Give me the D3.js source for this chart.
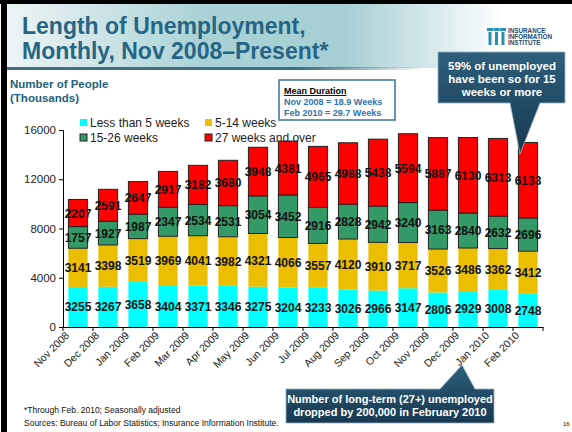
<!DOCTYPE html>
<meta charset="utf-8">
<head>
<style>
  body { margin: 0; background: #fff; }
  svg { display: block; font-family: Arial, "Liberation Sans", sans-serif; }
</style>
</head>
<body>
<svg id="chart" width="572" height="432"></svg>
<script src="https://d3js.org/d3.v7.min.js"></script>
<script>

// months on the x axis
var months = ["Nov 2008", "Dec 2008", "Jan 2009", "Feb 2009", "Mar 2009", "Apr 2009", "May 2009", "Jun 2009",
              "Jul 2009", "Aug 2009", "Sep 2009", "Oct 2009", "Nov 2009", "Dec 2009", "Jan 2010", "Feb 2010"];

// thousands of people, by duration
var lessThan5 = [3255, 3267, 3658, 3404, 3371, 3346, 3275, 3204, 3233, 3026, 2966, 3147, 2806, 2929, 3008, 2748];
var weeks5to14 = [3141, 3398, 3519, 3969, 4041, 3982, 4321, 4066, 3557, 4120, 3910, 3717, 3526, 3486, 3362, 3412];
var weeks15to26 = [1757, 1927, 1987, 2347, 2534, 2531, 3054, 3452, 2916, 2828, 2942, 3240, 3163, 2840, 2632, 2696];
var weeks27plus = [2207, 2591, 2647, 2917, 3182, 3680, 3948, 4381, 4965, 4988, 5438, 5594, 5887, 6130, 6313, 6133];

var seriesNames = ["Less than 5 weeks", "5-14 weeks", "15-26 weeks", "27 weeks and over"];
var yTicks = [0, 4000, 8000, 12000, 16000];

var colors = ["#00ffff", "#ebbf00", "#339966", "#ff0000"];
var outlined = [false, false, true, true];

var svg = d3.select("#chart");
var defs = svg.append("defs");

// ---- slide frame / title band ----
var tg = defs.append("linearGradient").attr("id", "titleGrad").attr("x1", 0).attr("x2", 1);
tg.append("stop").attr("offset", "0%").attr("stop-color", "#eef4f5");
tg.append("stop").attr("offset", "35%").attr("stop-color", "#a9d2d6");
tg.append("stop").attr("offset", "60%").attr("stop-color", "#a6cfd4");
tg.append("stop").attr("offset", "88%").attr("stop-color", "#ffffff");

var lg = defs.append("linearGradient").attr("id", "lineGrad").attr("x1", 0).attr("x2", 1);
lg.append("stop").attr("offset", "0%").attr("stop-color", "#3f6f86");
lg.append("stop").attr("offset", "70%").attr("stop-color", "#3f6f86");
lg.append("stop").attr("offset", "100%").attr("stop-color", "#3f6f86").attr("stop-opacity", 0);

var cg = defs.append("linearGradient").attr("id", "calloutGrad").attr("x1", 0).attr("x2", 0).attr("y1", 0).attr("y2", 1);
cg.append("stop").attr("offset", "0%").attr("stop-color", "#2d5f7c");
cg.append("stop").attr("offset", "100%").attr("stop-color", "#183850");

svg.append("rect").attr("x", 6).attr("y", 4).attr("width", 566).attr("height", 64).attr("fill", "url(#titleGrad)");
svg.append("rect").attr("x", 6).attr("y", 67).attr("width", 420).attr("height", 3).attr("fill", "url(#lineGrad)");
svg.append("rect").attr("x", 0).attr("y", 0).attr("width", 572).attr("height", 4).attr("fill", "#000");
svg.append("rect").attr("x", 1).attr("y", 0).attr("width", 6).attr("height", 432).attr("fill", "#000");

svg.append("text").attr("x", 22).attr("y", 34)
    .style("font-size", "23px").style("font-weight", "bold").attr("fill", "#276585")
    .text("Length of Unemployment,");
svg.append("text").attr("x", 22).attr("y", 59)
    .style("font-size", "23px").style("font-weight", "bold").attr("fill", "#276585")
    .text("Monthly, Nov 2008\u2013Present*");

// logo
var logo = svg.append("g").attr("transform", "translate(487,28)");
[0, 6.5, 13].forEach(function(dx) {
  logo.append("rect").attr("x", dx).attr("y", 0).attr("width", 6).attr("height", 3).attr("fill", "#2a8fb0");
  logo.append("rect").attr("x", dx + 1.5).attr("y", 4).attr("width", 3).attr("height", 13).attr("fill", "#2a8fb0");
});
["INSURANCE", "INFORMATION", "INSTITUTE"].forEach(function(t, i) {
  logo.append("text").attr("x", 21).attr("y", 5 + i * 6)
      .style("font-size", "6.3px").style("font-weight", "bold").attr("fill", "#1c4a72").text(t);
});

// axis title
svg.append("text").attr("x", 10).attr("y", 88)
    .style("font-size", "11.5px").style("font-weight", "bold").attr("fill", "#235f7b")
    .selectAll("tspan").data(["Number of People", "(Thousands)"]).join("tspan")
    .attr("x", 10).attr("dy", function(d, i) { return i ? 14 : 0; }).text(function(d) { return d; });

// ---- chart ----
var x = d3.scaleBand().domain(months).range([63, 543]).paddingInner(0.36).paddingOuter(0.18);
var y = d3.scaleLinear().domain([0, 16000]).range([327, 130]);

var rows = months.map(function(m, i) {
  return { month: m, a: lessThan5[i], b: weeks5to14[i], c: weeks15to26[i], d: weeks27plus[i] };
});
var stack = d3.stack().keys(["a", "b", "c", "d"])(rows);

var layers = svg.append("g").selectAll("g").data(stack).join("g")
    .attr("fill", function(d, i) { return colors[i]; })
    .attr("stroke", function(d, i) { return outlined[i] ? "#222" : "none"; })
    .attr("stroke-width", 1);

layers.selectAll("rect").data(function(d) { return d; }).join("rect")
    .attr("x", function(d) { return x(d.data.month); })
    .attr("width", x.bandwidth())
    .attr("y", function(d) { return y(d[1]); })
    .attr("height", function(d) { return y(d[0]) - y(d[1]); });

// value labels
var labels = svg.append("g").style("font-size", "12px").style("font-weight", "bold")
    .attr("fill", "#111").attr("text-anchor", "middle");
stack.forEach(function(layer) {
  labels.selectAll(null).data(layer).join("text")
      .attr("x", function(d) { return x(d.data.month) + x.bandwidth() / 2; })
      .attr("y", function(d) { return (y(d[0]) + y(d[1])) / 2 + 4.5; })
      .text(function(d) { return d[1] - d[0]; });
});

// axes
var yAxis = svg.append("g").attr("transform", "translate(63,0)")
    .call(d3.axisLeft(y).tickValues(yTicks).tickSize(4).tickPadding(3).tickFormat(d3.format("d")));
yAxis.selectAll("text").style("font-size", "11.5px").attr("fill", "#222").style("font-family", "Arial, 'Liberation Sans', sans-serif");
yAxis.selectAll("line, path").attr("stroke", "#000");

var xAxis = svg.append("g").attr("transform", "translate(0,327)")
    .call(d3.axisBottom(x).tickSize(0).tickFormat(""));
xAxis.select("path").attr("stroke", "#000");
xAxis.selectAll(".tick").remove();
// tick marks between categories
var step = x.step();
svg.append("g").selectAll("line").data(d3.range(months.length + 1)).join("line")
    .attr("x1", function(i) { return 63 + i * step; })
    .attr("x2", function(i) { return 63 + i * step; })
    .attr("y1", 327).attr("y2", 331).attr("stroke", "#000");

svg.append("g").selectAll("text").data(months).join("text")
    .attr("transform", function(d) {
      return "translate(" + (x(d) + x.bandwidth() / 2 - 8) + ",336) rotate(-45)";
    })
    .attr("text-anchor", "end")
    .style("font-size", "10.5px").attr("fill", "#222")
    .text(function(d) { return d; });

// legend
var legendPos = [[80, 127], [205, 127], [80, 142], [205, 142]];
var legend = svg.append("g");
seriesNames.forEach(function(name, i) {
  legend.append("rect").attr("x", legendPos[i][0]).attr("y", legendPos[i][1] - 8)
      .attr("width", 7).attr("height", 7).attr("fill", colors[i])
      .attr("stroke", outlined[i] ? "#222" : "none");
  legend.append("text").attr("x", legendPos[i][0] + 10).attr("y", legendPos[i][1])
      .style("font-size", "12px").attr("fill", "#222").text(name);
});

// mean duration box
svg.append("rect").attr("x", 279).attr("y", 80).attr("width", 116).attr("height", 40)
    .attr("fill", "#fff").attr("stroke", "#3a7396").attr("stroke-width", 1.5);
svg.append("text").attr("x", 284).attr("y", 94)
    .style("font-size", "9px").style("font-weight", "bold").style("text-decoration", "underline")
    .attr("fill", "#000").text("Mean Duration");
svg.append("text").attr("x", 284).attr("y", 105)
    .style("font-size", "9px").style("font-weight", "bold").attr("fill", "#2e73b0").text("Nov 2008 = 18.9 Weeks");
svg.append("text").attr("x", 284).attr("y", 116)
    .style("font-size", "9px").style("font-weight", "bold").attr("fill", "#2e73b0").text("Feb 2010 = 29.7 Weeks");

// callouts
svg.append("path")
    .attr("d", "M438,52 L565,52 L565,103 L540,103 L520,154 L510,103 L438,103 Z")
    .attr("fill", "url(#calloutGrad)").attr("stroke", "#9ab3c3").attr("stroke-width", 0.8);
svg.append("text").attr("text-anchor", "middle")
    .style("font-size", "11.5px").style("font-weight", "bold").attr("fill", "#fff")
    .selectAll("tspan").data(["59% of unemployed", "have been so for 15", "weeks or more"]).join("tspan")
    .attr("x", 502).attr("y", function(d, i) { return 70 + i * 13; }).text(function(d) { return d; });

svg.append("path")
    .attr("d", "M286,389 L440,389 L462,365 L475,389 L494,389 L494,423 L286,423 Z")
    .attr("fill", "url(#calloutGrad)").attr("stroke", "#9ab3c3").attr("stroke-width", 0.8);
svg.append("text").attr("text-anchor", "middle")
    .style("font-size", "11px").style("font-weight", "bold").attr("fill", "#fff")
    .selectAll("tspan").data(["Number of long-term (27+) unemployed", "dropped by 200,000 in February 2010"]).join("tspan")
    .attr("x", 390).attr("y", function(d, i) { return 403 + i * 13; }).text(function(d) { return d; });

// footnotes
svg.append("text").attr("x", 24).attr("y", 413).style("font-size", "8.5px").attr("fill", "#111")
    .text("*Through Feb. 2010; Seasonally adjusted");
svg.append("text").attr("x", 24).attr("y", 426).style("font-size", "8.5px").attr("fill", "#111")
    .text("Sources: Bureau of Labor Statistics; Insurance Information Institute.");
svg.append("text").attr("x", 563).attr("y", 426).style("font-size", "6px").attr("fill", "#111").text("16");

</script>
</body>
